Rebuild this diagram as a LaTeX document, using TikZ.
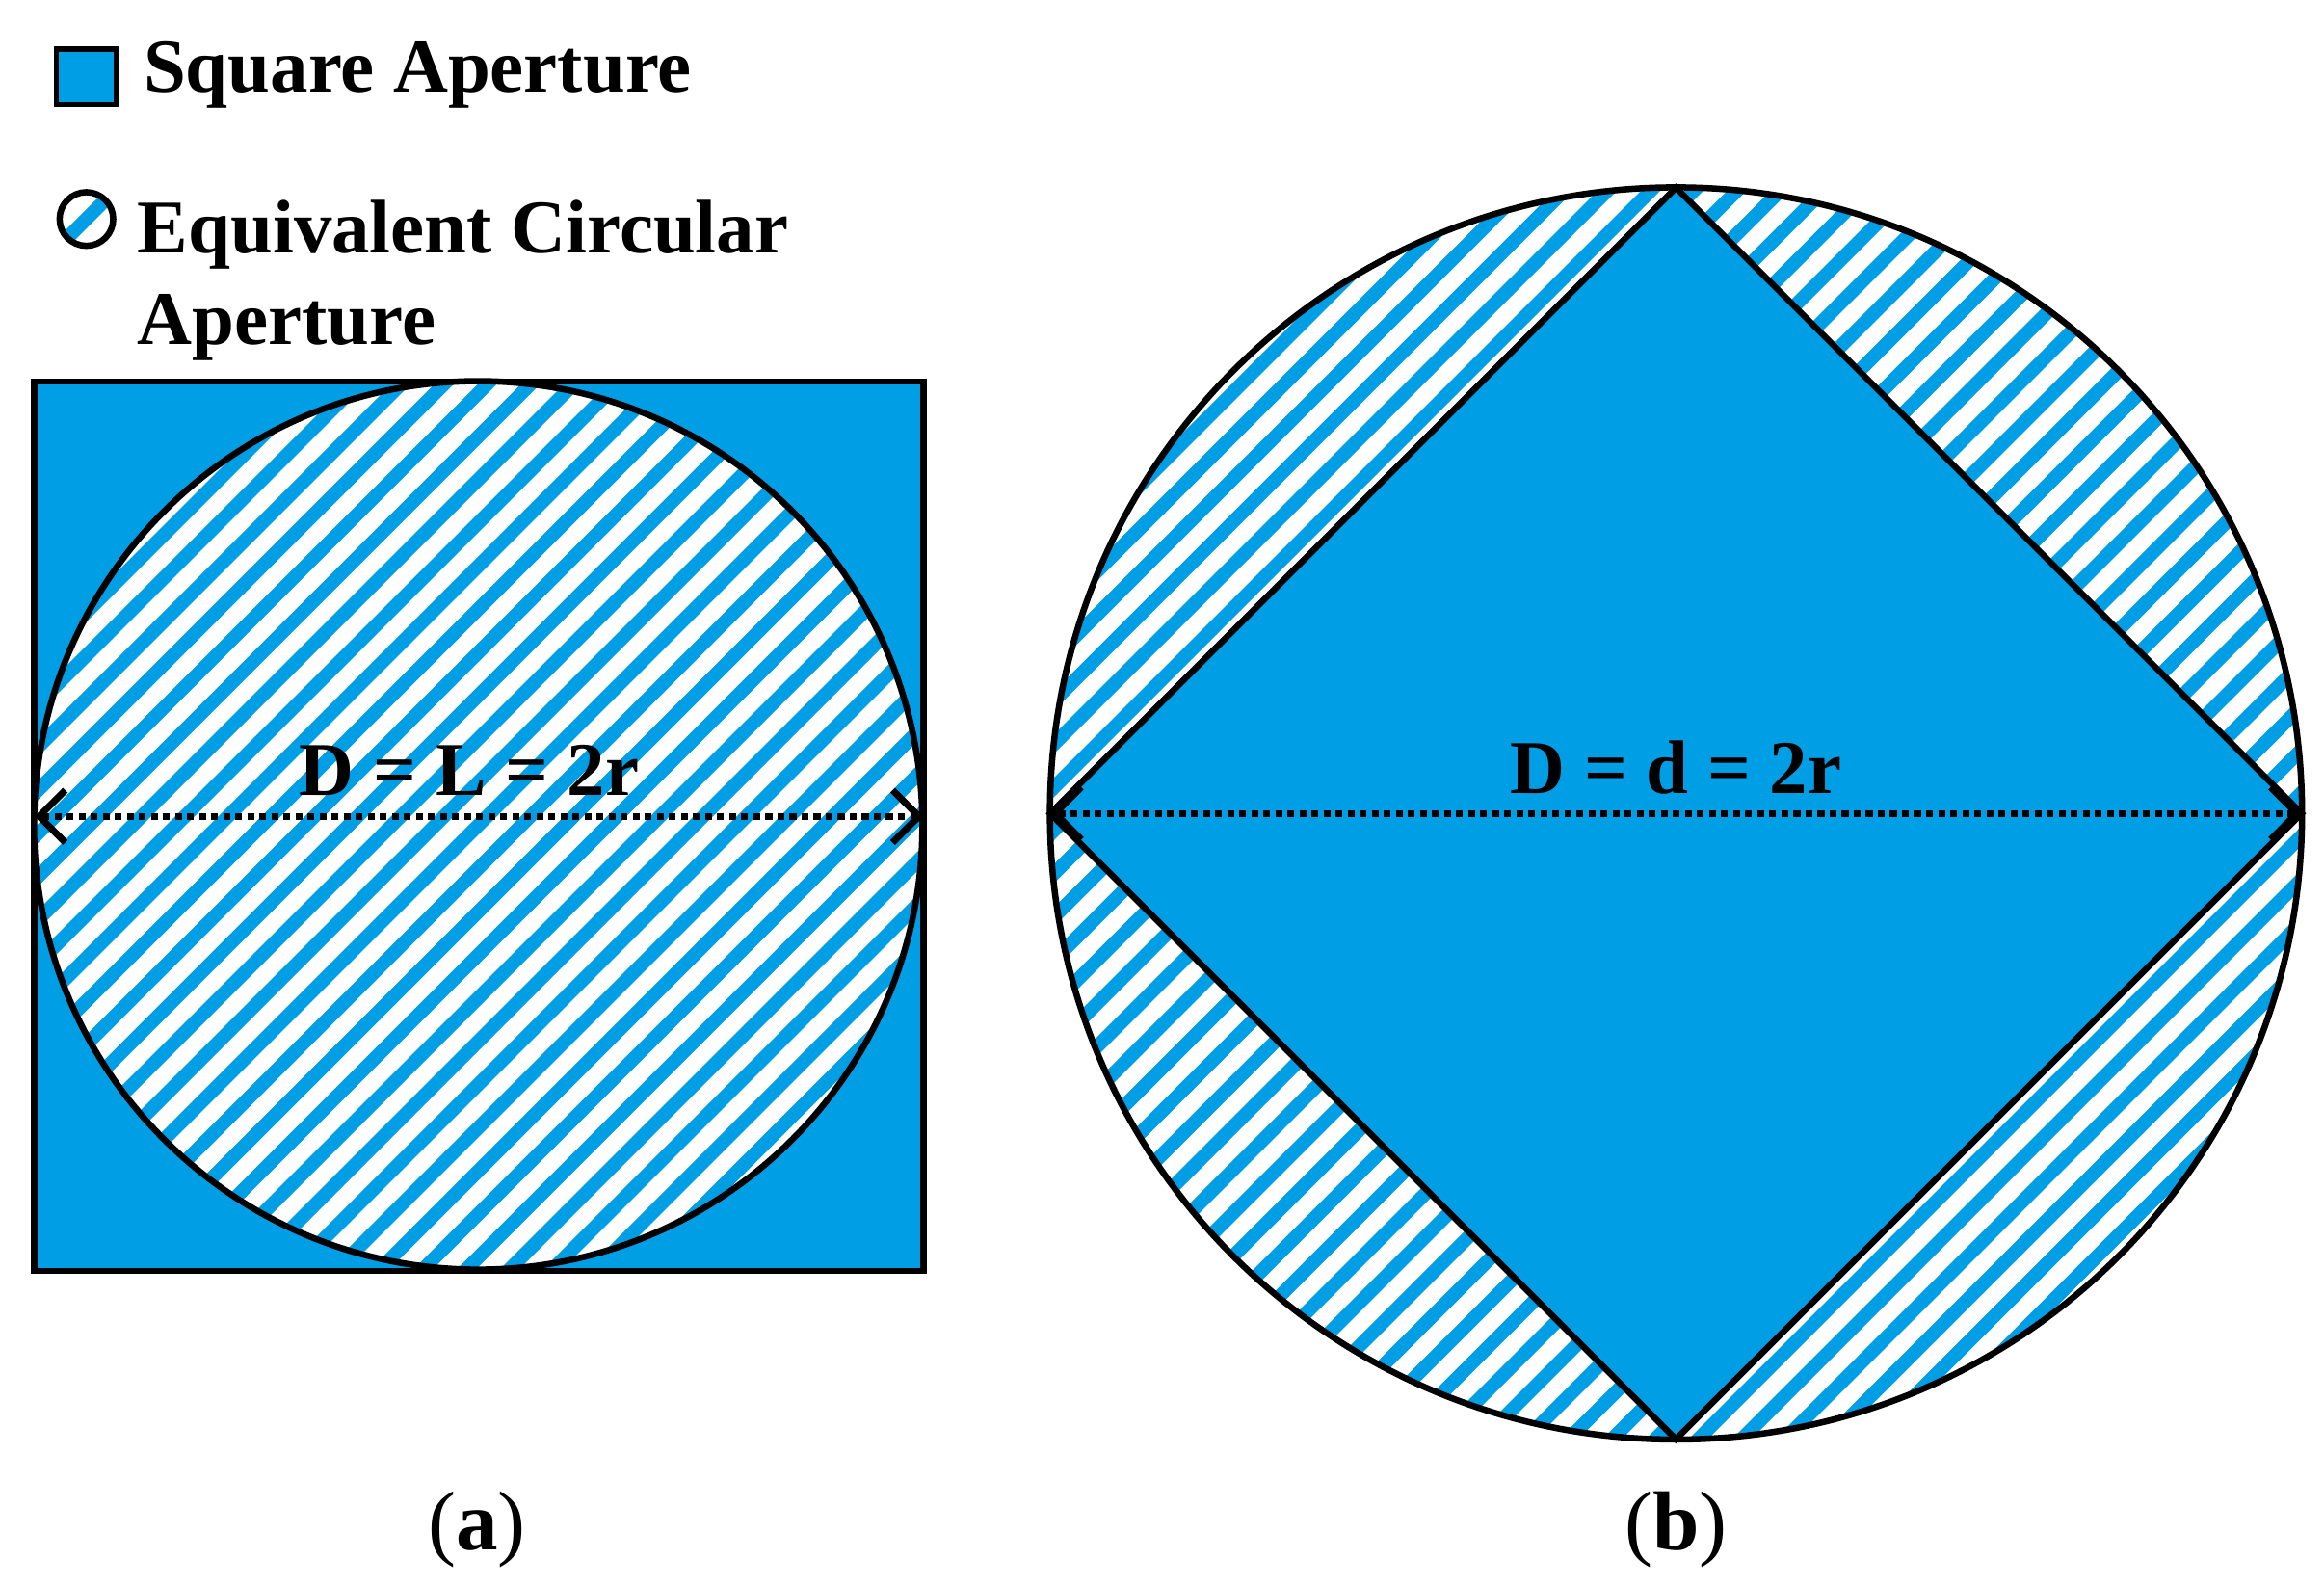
\documentclass[tikz,border=0pt]{standalone}
\usepackage{fontspec}
\setmainfont{Liberation Serif}
\usetikzlibrary{arrows.meta,calc}
\definecolor{aperture}{RGB}{0,158,228}
\tikzset{
    % square aperture fill
    square_ap/.style={fill=aperture, draw=black, line width=1.2pt},
    % outline of the circular aperture
    circle_ap/.style={draw=black, line width=1.2pt},
    stripe/.style={aperture, line width=2.6pt},
    dimension/.style={densely dotted, line width=1.3pt, {Straight Barb[length=5pt,width=10pt]}-{Straight Barb[length=5pt,width=10pt]}},
    label_text/.style={font=\bfseries\fontsize{14.5}{17}\selectfont},
    legend_text/.style={font=\bfseries\fontsize{14.5}{17.5}\selectfont, anchor=west, align=left}
}
% stripes of a hatched disc: centre, radius (cm)
\newcommand{\hatchdisc}[2]{
    \begin{scope}
        \clip #1 circle (#2);
        \foreach \k in {-25,...,25}
            \draw[stripe] ($#1+(\k*29-800,800)$) -- ++(1600,-1600);
    \end{scope}
}
\begin{document}
\begin{tikzpicture}[x=0.01cm, y=-0.01cm]
    \useasboundingbox (0,0) rectangle (1560,1064);

    % --- legend ---
    \fill[aperture, draw=black, line width=1pt] (38,33) rectangle (78,70);
    \node[legend_text] (legsq) at (84,50) {Square Aperture};
    \hatchdisc{(58,147)}{0.18cm}
    \draw[circle_ap] (58,147) circle (0.18cm);
    \node[legend_text, anchor=north west] (legci) at (80,122) {Equivalent Circular\\Aperture};

    % --- (a) circle inside square ---
    \draw[square_ap] (23,256) rectangle (620,853);
    \fill[white] (321,554) circle (2.98cm);
    \hatchdisc{(321,554)}{2.98cm}
    \draw[circle_ap] (321,554) circle (2.98cm);
    \coordinate (aL) at (23,548);
    \coordinate (aR) at (620,548);
    \draw[dimension] (aL) -- (aR);
    \node[label_text] (lab_a) at (315,517) {D = L = 2r};
    \node[font=\fontsize{16}{19}\selectfont] (cap_a) at (320,1027) {(\textbf{a})};

    % --- (b) square inside circle ---
    \fill[white] (1125,546) circle (4.2cm);
    \hatchdisc{(1125,546)}{4.2cm}
    \draw[square_ap] (1125,126) -- (1545,546) -- (1125,966) -- (705,546) -- cycle;
    \draw[circle_ap] (1125,546) circle (4.2cm);
    \coordinate (bL) at (705,546);
    \coordinate (bR) at (1545,546);
    \draw[dimension] (bL) -- (bR);
    \node[label_text] (lab_b) at (1125,515) {D = d = 2r};
    \node[font=\fontsize{16}{19}\selectfont] (cap_b) at (1125,1027) {(\textbf{b})};
\end{tikzpicture}
\end{document}
